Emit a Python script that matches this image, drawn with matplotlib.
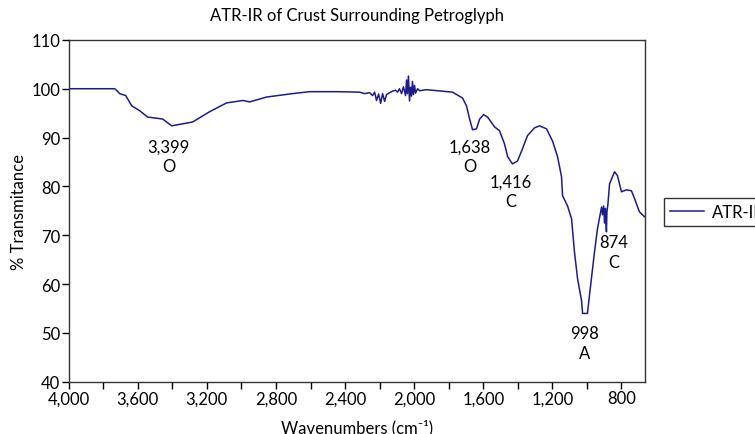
import matplotlib

matplotlib.use("Agg")
import matplotlib.pyplot as plt
from matplotlib.ticker import FuncFormatter, MultipleLocator

plt.rcParams["font.family"] = ["Lato", "DejaVu Sans"]

# spectrum (wavenumber cm^-1, % transmittance)
wavenumber = [
    4000, 3734, 3720, 3705, 3670, 3635, 3589, 3543, 3456, 3404, 3282, 3184,
    3086, 2990, 2953, 2854, 2704, 2605, 2449, 2316, 2287, 2258, 2241, 2229,
    2218, 2206, 2194, 2183, 2171, 2160, 2142, 2125, 2108, 2096, 2085, 2073,
    2062, 2050, 2044, 2039, 2033, 2027, 2021, 2015, 2010, 2004, 1998, 1992,
    1980, 1969, 1928, 1778, 1720, 1697, 1679, 1662, 1639, 1621, 1598, 1575,
    1535, 1506, 1477, 1459, 1431, 1402, 1373, 1344, 1303, 1274, 1234, 1199,
    1170, 1147, 1141, 1112, 1089, 1072, 1054, 1031, 1025, 997, 974, 956, 939,
    915, 910, 903, 898, 893, 887, 884, 878, 869, 840, 823, 800, 771, 742, 724,
    696, 667,
]
transmittance = [
    100.0, 100.0, 99.6, 99.0, 98.6, 96.5, 95.5, 94.2, 93.8, 92.4, 93.2, 95.3,
    97.1, 97.6, 97.3, 98.3, 99.0, 99.4, 99.4, 99.3, 99.0, 99.2, 98.6, 99.3,
    97.6, 98.9, 97.0, 99.0, 97.4, 98.8, 99.2, 99.5, 99.7, 99.3, 100.0, 99.0,
    100.4, 98.6, 101.8, 99.0, 102.6, 97.5, 100.3, 98.5, 101.5, 98.8, 100.7,
    99.1, 100.0, 99.6, 99.8, 99.3, 98.1, 96.5, 93.8, 91.6, 91.8, 93.8, 94.7,
    94.2, 92.2, 91.4, 88.7, 86.1, 84.6, 85.2, 87.7, 90.4, 92.0, 92.4, 91.8,
    89.3, 86.1, 82.0, 78.1, 76.0, 73.4, 66.6, 61.1, 56.6, 54.0, 54.0, 61.1,
    66.6, 71.3, 75.8, 74.2, 76.0, 72.5, 75.5, 70.7, 74.8, 76.5, 80.5, 83.0,
    82.2, 78.9, 79.3, 79.1, 77.5, 74.8, 73.8,
]

# peak annotations: (wavenumber, transmittance at text centre, label)
peak_x = [3421, 1679, 1442, 1014, 846]
peak_y = [86.2, 86.2, 79.0, 48.0, 66.5]
peak_text = ["3,399\nO", "1,638\nO", "1,416\nC", "998\nA", "874\nC"]

fig = plt.figure(figsize=(7.55, 4.35), dpi=100)
ax = fig.add_axes([0.091, 0.120, 0.763, 0.786])

line, = ax.plot(wavenumber, transmittance, color="#1c1c8a", lw=1.1, label="ATR-IR")

for x, y, t in zip(peak_x, peak_y, peak_text):
    ax.text(x, y, t, ha="center", va="center", fontsize=12, linespacing=1.3)

ax.set_xlim(4000, 665)
ax.set_ylim(40, 110)
ax.xaxis.set_major_locator(MultipleLocator(400))
ax.xaxis.set_minor_locator(MultipleLocator(200))
ax.yaxis.set_major_locator(MultipleLocator(10))
ax.xaxis.set_major_formatter(FuncFormatter(lambda v, p: f"{v:,.0f}"))
ax.tick_params(which="both", direction="out", length=5, width=1, labelsize=12, pad=1)

for s in ax.spines.values():
    s.set_color("#333333")
    s.set_linewidth(1)

ax.set_title("ATR-IR of Crust Surrounding Petroglyph", fontsize=12, pad=14)
ax.set_xlabel("Wavenumbers (cm\u207b\u00b9)", fontsize=12, labelpad=9)
ax.set_ylabel("% Transmitance", fontsize=12, labelpad=3)

fig.legend(handles=[line], loc="center left", bbox_to_anchor=(0.869, 0.51),
           fontsize=12, frameon=True, fancybox=False, edgecolor="black",
           handlelength=2.0, handletextpad=0.5, borderpad=0.35)

plt.savefig("out.png", dpi=100)
plt.close()
